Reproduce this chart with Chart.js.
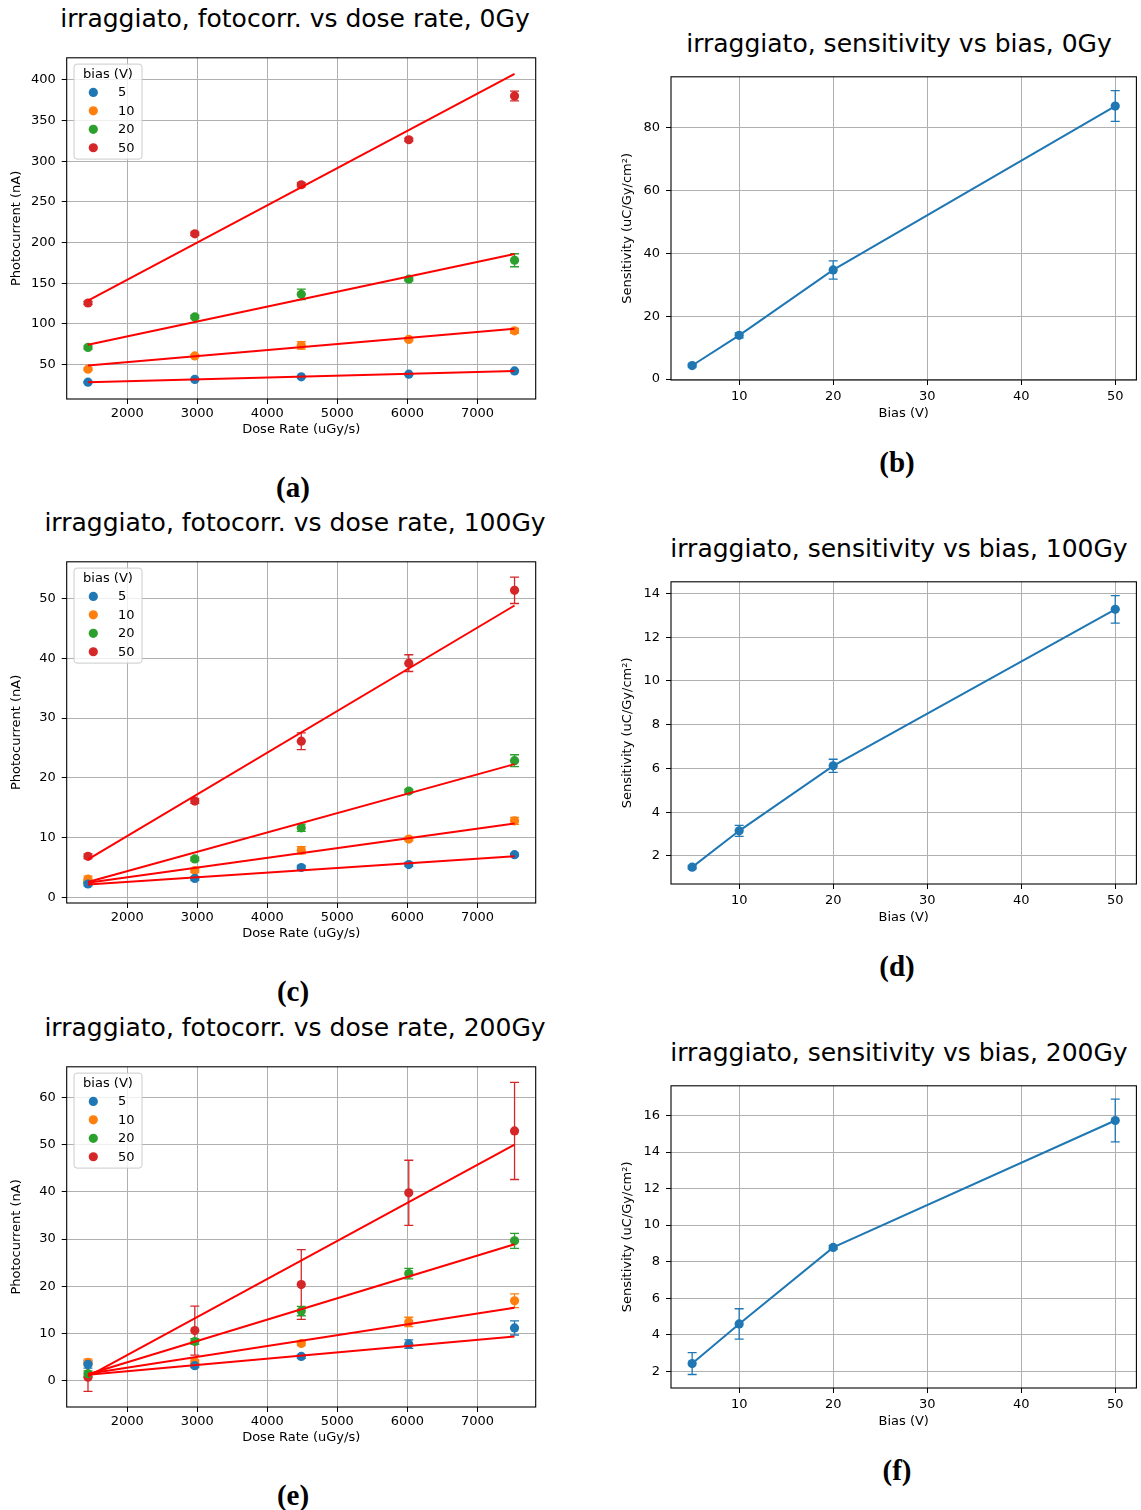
<!DOCTYPE html>
<html>
<head>
<meta charset="utf-8">
<script src="https://cdn.jsdelivr.net/npm/chart.js@4.4.1/dist/chart.umd.min.js"></script>
<style>
html,body{margin:0;padding:0;background:#fff;}
body{width:1141px;height:1510px;position:relative;overflow:hidden;font-family:"DejaVu Sans",sans-serif;}
.panel{position:absolute;}
.ttl{position:absolute;white-space:nowrap;transform:translateX(-50%);font-family:"DejaVu Sans",sans-serif;font-size:25px;line-height:1;color:#000;}
.cap{position:absolute;white-space:nowrap;transform:translate(-50%,-50%);font-family:"Liberation Serif",serif;font-weight:bold;font-size:29px;line-height:1;color:#000;}
</style>
</head>
<body>
<script>
// ---------------- DATA ----------------
const doseRate = [1440, 2965, 4485, 6020, 7530];
const biasLevels = [5, 10, 20, 50];
const doseTicks = [2000, 3000, 4000, 5000, 6000, 7000];
const biasTicks = [10, 20, 30, 40, 50];

// 0 Gy photocurrent (nA)
const pc0_5  = [28.4, 31.7, 34.9, 38.2, 42.2];
const pc0_10 = [44.3, 60.6, 73.6, 80.9, 91.5];
const pc0_20 = [71.1, 108.6, 136.3, 155.0, 178.2];
const pc0_50 = [125.7, 210.7, 271.0, 326.3, 380.1];
const err0_5  = [0.8, 0.8, 0.8, 0.8, 0.8];
const err0_10 = [1.5, 1.5, 4.5, 1.5, 3.0];
const err0_20 = [2.0, 2.0, 6.5, 2.0, 8.0];
const err0_50 = [2.0, 2.0, 2.5, 2.0, 6.0];
const fit0Start = [28.4, 48.8, 74.4, 128.5];
const fit0End   = [42.2, 93.9, 185.9, 407.3];
const pcTicks0 = [50, 100, 150, 200, 250, 300, 350, 400];

// 100 Gy photocurrent (nA)
const pc100_5  = [2.27, 3.2, 5.03, 5.52, 7.18];
const pc100_10 = [3.1, 4.53, 7.9, 9.78, 12.82];
const pc100_20 = [2.65, 6.46, 11.66, 17.79, 22.87];
const pc100_50 = [6.9, 16.13, 26.13, 39.17, 51.33];
const err100_5  = [0.3, 0.3, 0.3, 0.3, 0.2];
const err100_10 = [0.5, 0.3, 0.6, 0.3, 0.6];
const err100_20 = [0.3, 0.3, 0.6, 0.3, 1.0];
const err100_50 = [0.4, 0.4, 1.4, 1.4, 2.2];
const fit100Start = [2.2, 2.5, 2.6, 6.4];
const fit100End   = [6.9, 12.4, 22.3, 48.8];
const pcTicks100 = [0, 10, 20, 30, 40, 50];

// 200 Gy photocurrent (nA)
const pc200_5  = [3.44, 3.16, 5.12, 7.72, 11.16];
const pc200_10 = [3.86, 4.0, 7.86, 12.42, 16.91];
const pc200_20 = [1.47, 8.28, 14.74, 22.67, 29.61];
const pc200_50 = [0.7, 10.6, 20.35, 39.79, 52.91];
const err200_5  = [0.8, 0.4, 0.4, 0.9, 1.5];
const err200_10 = [0.7, 0.4, 0.4, 1.0, 1.45];
const err200_20 = [0.6, 0.6, 1.0, 1.1, 1.6];
const err200_50 = [3.0, 5.2, 7.4, 6.9, 10.3];
const fit200Start = [1.26, 1.47, 1.33, 0.9];
const fit200End   = [9.33, 15.44, 28.9, 50.0];
const pcTicks200 = [0, 10, 20, 30, 40, 50, 60];

// Sensitivity (uC/Gy/cm^2) vs bias
const sens0 = [4.3, 13.9, 34.7, 86.8];
const sensErr0 = [0.4, 0.8, 2.9, 4.9];
const sensTicks0 = [0, 20, 40, 60, 80];
const sens100 = [1.49, 3.15, 6.12, 13.27];
const sensErr100 = [0.08, 0.25, 0.3, 0.63];
const sensTicks100 = [2, 4, 6, 8, 10, 12, 14];
const sens200 = [2.42, 4.59, 8.78, 15.73];
const sensErr200 = [0.6, 0.83, 0.1, 1.17];
const sensTicks200 = [2, 4, 6, 8, 10, 12, 14, 16];

// ---------------- STYLE / LAYOUT ----------------
const SERIES_COLORS = ['#1f77b4', '#ff7f0e', '#2ca02c', '#d62728'];
const FIT_COLOR = '#ff0000';
const FONT = 'DejaVu Sans';
const LEFT_COL = {cx: 0, cw: 560, L: 66.7, R: 535.7, titleX: 295, capX: 293, xTitlePad: 11.2, xTickPad: 1.5, titleDrop: 28.7};
const RIGHT_COL = {cx: 611, cw: 530, L: 671, R: 1139.3, titleX: 899, capX: 897, xTitlePad: 8.2, xTickPad: 3.5, titleDrop: 22.7};

const errorBarPlugin = {
  id: 'errorBars',
  beforeDatasetsDraw(chart) {
    const {ctx, chartArea} = chart;
    const xs = chart.scales.x, ys = chart.scales.y;
    ctx.save();
    ctx.beginPath();
    ctx.rect(chartArea.left, chartArea.top, chartArea.right - chartArea.left, chartArea.bottom - chartArea.top);
    ctx.clip();
    chart.data.datasets.forEach(ds => {
      if (!ds.errors) return;
      ctx.strokeStyle = ds.backgroundColor;
      ctx.lineWidth = 1.3;
      ds.data.forEach((p, j) => {
        const e = ds.errors[j];
        const px = xs.getPixelForValue(p.x);
        const y1 = ys.getPixelForValue(p.y - e);
        const y2 = ys.getPixelForValue(p.y + e);
        ctx.beginPath();
        ctx.moveTo(px, y1); ctx.lineTo(px, y2);
        ctx.moveTo(px - 4.5, y1); ctx.lineTo(px + 4.5, y1);
        ctx.moveTo(px - 4.5, y2); ctx.lineTo(px + 4.5, y2);
        ctx.stroke();
      });
    });
    ctx.restore();
  }
};

const framePlugin = {
  id: 'frameAndLegend',
  afterDatasetsDraw(chart) {
    const {ctx, chartArea: a} = chart;
    ctx.save();
    ctx.strokeStyle = '#000';
    ctx.lineWidth = 1.1;
    ctx.strokeRect(a.left, a.top, a.right - a.left, a.bottom - a.top);
    const lg = chart.options.plugins.boxLegend;
    if (lg && lg.display) {
      const items = chart.data.datasets.filter(d => d.inLegend);
      const bx = a.left + 7.3, by = a.top + 6.3, bw = 68, bh = 95;
      ctx.beginPath();
      ctx.roundRect(bx, by, bw, bh, 3);
      ctx.fillStyle = 'rgba(255,255,255,0.8)';
      ctx.fill();
      ctx.strokeStyle = '#cccccc';
      ctx.lineWidth = 1;
      ctx.stroke();
      ctx.fillStyle = '#000';
      ctx.font = '13px "' + FONT + '"';
      ctx.textBaseline = 'middle';
      ctx.textAlign = 'center';
      ctx.fillText(lg.title, bx + bw / 2, by + 10.5);
      ctx.textAlign = 'left';
      items.forEach((d, i) => {
        const cy = by + 28.3 + i * 18.45;
        ctx.beginPath();
        ctx.arc(bx + 19.3, cy, 4.6, 0, Math.PI * 2);
        ctx.fillStyle = d.backgroundColor;
        ctx.fill();
        ctx.fillStyle = '#000';
        ctx.fillText(d.label, bx + 44, cy + 0.5);
      });
    }
    ctx.restore();
  }
};

function axisCommon(extra) {
  return Object.assign({
    type: 'linear',
    bounds: 'data',
    border: {display: false},
    grid: {color: '#b0b0b0', lineWidth: 1, tickColor: '#000', tickLength: 5, tickWidth: 1},
  }, extra);
}

function makePanel(cfg) {
  const col = cfg.col;
  const ct = cfg.T - 12;
  const ch = cfg.B - cfg.T + 12 + 50;
  const div = document.createElement('div');
  div.className = 'panel';
  div.style.left = col.cx + 'px';
  div.style.top = ct + 'px';
  div.style.width = col.cw + 'px';
  div.style.height = ch + 'px';
  const cv = document.createElement('canvas');
  cv.width = col.cw; cv.height = ch;
  cv.style.width = col.cw + 'px'; cv.style.height = ch + 'px';
  div.appendChild(cv);
  document.body.appendChild(div);

  const t = document.createElement('div');
  t.className = 'ttl';
  t.textContent = cfg.title;
  t.style.left = col.titleX + 'px';
  t.style.top = (cfg.T - col.titleDrop - 21.15) + 'px';
  document.body.appendChild(t);

  const c = document.createElement('div');
  c.className = 'cap';
  c.textContent = cfg.caption;
  c.style.left = col.capX + 'px';
  c.style.top = cfg.capY + 'px';
  document.body.appendChild(c);

  const yW = col.L - col.cx;
  const padR = col.cx + col.cw - col.R;
  const tickFont = {family: FONT, size: 13};

  new Chart(cv, {
    type: 'scatter',
    data: {datasets: cfg.datasets},
    plugins: [errorBarPlugin, framePlugin],
    options: {
      responsive: false,
      animation: false,
      devicePixelRatio: 1,
      events: [],
      layout: {padding: {top: 12, left: 0, right: padR, bottom: 0}},
      plugins: {
        legend: {display: false},
        tooltip: {enabled: false},
        boxLegend: {display: cfg.legend, title: 'bias (V)'}
      },
      scales: {
        x: axisCommon({
          position: 'bottom',
          min: cfg.xMin, max: cfg.xMax,
          afterBuildTicks: s => { s.ticks = cfg.xTicks.map(v => ({value: v})); },
          afterFit: s => { s.height = 50; },
          ticks: {callback: v => String(v), font: tickFont, color: '#000', padding: col.xTickPad, maxRotation: 0, autoSkip: false},
          title: {display: true, text: cfg.xTitle, font: tickFont, color: '#000', padding: {top: 0, bottom: col.xTitlePad}}
        }),
        y: axisCommon({
          position: 'left',
          min: cfg.yMin, max: cfg.yMax,
          afterBuildTicks: s => { s.ticks = cfg.yTicks.map(v => ({value: v})); },
          afterFit: s => { s.width = yW; },
          ticks: {callback: v => String(v), font: tickFont, color: '#000', padding: 6, autoSkip: false},
          title: {display: true, text: cfg.yTitle, font: tickFont, color: '#000', padding: {top: 9.2, bottom: 0}}
        })
      }
    }
  });
}

function photoDatasets(series, errs, fitStart, fitEnd) {
  const ds = [];
  series.forEach((vals, i) => {
    ds.push({
      label: String(biasLevels[i]),
      inLegend: true,
      data: doseRate.map((x, j) => ({x: x, y: vals[j]})),
      errors: errs[i],
      backgroundColor: SERIES_COLORS[i],
      borderColor: SERIES_COLORS[i],
      pointRadius: 4.6, pointHoverRadius: 4.6, borderWidth: 0,
      showLine: false, order: 1
    });
  });
  series.forEach((vals, i) => {
    ds.push({
      label: 'fit ' + biasLevels[i],
      type: 'line',
      data: [{x: doseRate[0], y: fitStart[i]}, {x: doseRate[doseRate.length - 1], y: fitEnd[i]}],
      borderColor: FIT_COLOR, backgroundColor: FIT_COLOR,
      borderWidth: 2, pointRadius: 0, showLine: true, fill: false, tension: 0, order: 0
    });
  });
  return ds;
}

function sensDatasets(vals, errs) {
  return [{
    label: 'sensitivity',
    data: biasLevels.map((x, j) => ({x: x, y: vals[j]})),
    errors: errs,
    backgroundColor: '#1f77b4', borderColor: '#1f77b4',
    borderWidth: 2, pointRadius: 4.6, pointHoverRadius: 4.6, pointBorderWidth: 0,
    showLine: true, fill: false, tension: 0
  }];
}

const photoX = {xMin: 1136, xMax: 7832, xTicks: doseTicks, xTitle: 'Dose Rate (uGy/s)', yTitle: 'Photocurrent (nA)', legend: true};
const sensX = {xMin: 2.75, xMax: 52.25, xTicks: biasTicks, xTitle: 'Bias (V)', yTitle: 'Sensitivity (uC/Gy/cm²)', legend: false};

makePanel(Object.assign({}, photoX, {col: LEFT_COL, T: 55.7, B: 399, capY: 486.5, caption: '(a)',
  title: 'irraggiato, fotocorr. vs dose rate, 0Gy', yMin: 7.7, yMax: 427, yTicks: pcTicks0,
  datasets: photoDatasets([pc0_5, pc0_10, pc0_20, pc0_50], [err0_5, err0_10, err0_20, err0_50], fit0Start, fit0End)}));
makePanel(Object.assign({}, sensX, {col: RIGHT_COL, T: 74.7, B: 380, capY: 462, caption: '(b)',
  title: 'irraggiato, sensitivity vs bias, 0Gy', yMin: -0.3, yMax: 96.1, yTicks: sensTicks0,
  datasets: sensDatasets(sens0, sensErr0)}));
makePanel(Object.assign({}, photoX, {col: LEFT_COL, T: 559.7, B: 903.3, capY: 990.5, caption: '(c)',
  title: 'irraggiato, fotocorr. vs dose rate, 100Gy', yMin: -0.9, yMax: 56.1, yTicks: pcTicks100,
  datasets: photoDatasets([pc100_5, pc100_10, pc100_20, pc100_50], [err100_5, err100_10, err100_20, err100_50], fit100Start, fit100End)}));
makePanel(Object.assign({}, sensX, {col: RIGHT_COL, T: 579.7, B: 884.3, capY: 966, caption: '(d)',
  title: 'irraggiato, sensitivity vs bias, 100Gy', yMin: 0.72, yMax: 14.53, yTicks: sensTicks100,
  datasets: sensDatasets(sens100, sensErr100)}));
makePanel(Object.assign({}, photoX, {col: LEFT_COL, T: 1064.7, B: 1407.3, capY: 1494.5, caption: '(e)',
  title: 'irraggiato, fotocorr. vs dose rate, 200Gy', yMin: -5.6, yMax: 66.5, yTicks: pcTicks200,
  datasets: photoDatasets([pc200_5, pc200_10, pc200_20, pc200_50], [err200_5, err200_10, err200_20, err200_50], fit200Start, fit200End)}));
makePanel(Object.assign({}, sensX, {col: RIGHT_COL, T: 1083.7, B: 1388.3, capY: 1470, caption: '(f)',
  title: 'irraggiato, sensitivity vs bias, 200Gy', yMin: 1.08, yMax: 17.63, yTicks: sensTicks200,
  datasets: sensDatasets(sens200, sensErr200)}));
</script>
</body>
</html>
